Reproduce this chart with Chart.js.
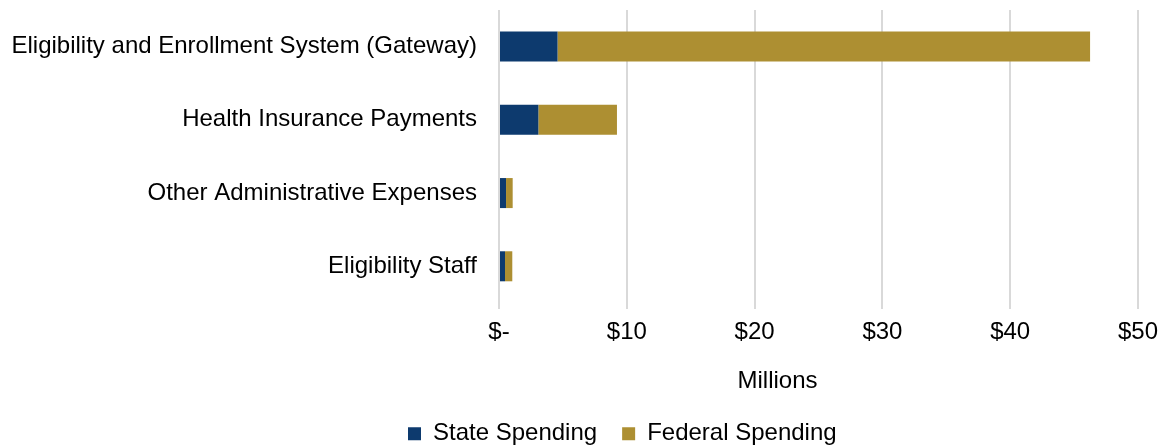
<!DOCTYPE html>
<html>
<head>
<meta charset="utf-8">
<script src="https://cdn.jsdelivr.net/npm/chart.js@4"></script>
<style>
html,body{margin:0;padding:0;background:#fff;}
#wrap{width:1161px;height:448px;position:relative;}
</style>
</head>
<body>
<div id="wrap"><canvas id="c"></canvas></div>
<script>
const categories = ["Eligibility and Enrollment System (Gateway)", "Health Insurance Payments", "Other Administrative Expenses", "Eligibility Staff"];
const stateSpending = [4.58, 3.08, 0.55, 0.47];
const federalSpending = [41.67, 6.15, 0.52, 0.57];
const xTicks = [0, 10, 20, 30, 40, 50];
const seriesNames = ["State Spending", "Federal Spending"];

Chart.defaults.font.family = "'Liberation Sans', Arial, sans-serif";
Chart.defaults.color = "#000";

const LEGEND_PAD = 25;
const placer = {
  id: 'placer',
  afterLayout(chart) {
    const lg = chart.legend;
    if (lg) {
      const w = lg.width;
      lg.top = 433.8 - 12 - LEGEND_PAD;
      lg.bottom = chart.height;
      lg.height = lg.bottom - lg.top;
      lg.left = 408 - LEGEND_PAD;
      lg.right = lg.left + w;
    }
    const sx = chart.scales.x;
    if (sx && !sx._titleShifted) {
      const orig = sx.drawTitle.bind(sx);
      sx.drawTitle = function () {
        const ctx = this.ctx;
        ctx.save();
        ctx.translate(-41, 0);
        orig();
        ctx.restore();
      };
      sx._titleShifted = true;
    }
  }
};

new Chart(document.getElementById('c'), {
  type: 'bar',
  data: {
    labels: categories,
    datasets: [
      {label: seriesNames[0], data: stateSpending, backgroundColor: '#0D3A6E', barPercentage: 0.82, categoryPercentage: 0.5},
      {label: seriesNames[1], data: federalSpending, backgroundColor: '#AD8F32', barPercentage: 0.82, categoryPercentage: 0.5}
    ]
  },
  plugins: [placer],
  options: {
    indexAxis: 'y',
    responsive: true,
    maintainAspectRatio: false,
    animation: false,
    layout: {padding: {left: 0, right: 23, top: 10, bottom: 0}},
    plugins: {
      tooltip: {enabled: false},
      legend: {
        position: 'bottom',
        align: 'start',
        maxHeight: 44,
        labels: {boxWidth: 13, boxHeight: 13, font: {size: 24}, padding: LEGEND_PAD, color: '#000'}
      }
    },
    scales: {
      x: {
        stacked: true,
        min: 0, max: 50,
        afterBuildTicks: (s) => { s.ticks = xTicks.map(v => ({value: v})); },
        ticks: {
          font: {size: 24}, padding: 9, color: '#000',
          callback: (v) => v === 0 ? '$-' : '$' + v
        },
        grid: {color: '#d9d9d9', lineWidth: 2, tickLength: 6, drawTicks: true},
        border: {display: false},
        title: {display: true, text: 'Millions', font: {size: 24}, color: '#000', padding: {top: 11.5, bottom: 8}},
        afterFit: (s) => { s.paddingLeft = 0; s.paddingRight = 0; }
      },
      y: {
        stacked: true,
        ticks: {font: {size: 24}, padding: 14, color: '#000'},
        grid: {display: false},
        border: {display: false},
        afterFit: (s) => { s.width = 499; s.paddingTop = 0; s.paddingBottom = 0; }
      }
    }
  }
});
</script>
</body>
</html>
